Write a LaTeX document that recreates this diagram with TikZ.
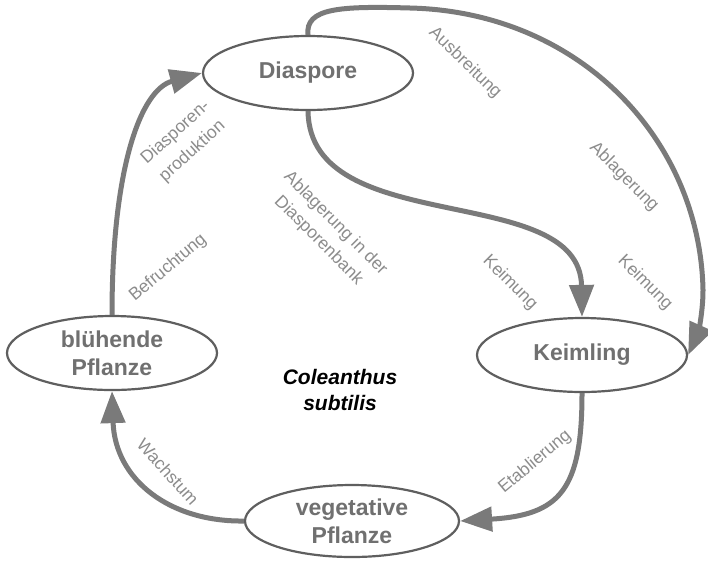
\documentclass[tikz,border=0pt]{standalone}
\usepackage{fontspec}
\setmainfont{Liberation Sans}
\usetikzlibrary{shapes.geometric,arrows.meta}
\definecolor{arrowgray}{RGB}{122,122,122}
\definecolor{edgegray}{RGB}{95,95,95}
\definecolor{nodegray}{RGB}{112,112,112}
\definecolor{labelgray}{RGB}{140,140,140}
\begin{document}
\begin{tikzpicture}[x=1pt,y=-1pt,
  state/.style={ellipse, draw=edgegray, line width=2.2pt, fill=white,
    minimum width=210pt, minimum height=74pt, inner sep=0pt,
    font=\fontsize{23}{28}\selectfont\bfseries, text=nodegray, align=center},
  flow/.style={draw=arrowgray, line width=5pt, -{Triangle[length=32pt,width=24pt]}},
  lbl/.style={font=\fontsize{17.5}{24}\selectfont, text=labelgray, align=center, inner sep=0pt},
  species/.style={font=\fontsize{21}{26}\selectfont\bfseries\itshape, text=black, align=center, inner sep=0pt}]
\useasboundingbox (0,0) rectangle (708,563);

\node[state] (dia) at (308,73) {Diaspore};
\node[state] (blu) at (112,353) {blühende\\Pflanze};
\node[state] (keim) at (582,355) {Keimling};
\node[state, minimum width=214pt, minimum height=72pt] (veg) at (352,521) {vegetative\\Pflanze};

\draw[flow] (blu.north) .. controls (112,170) and (140,90) .. (dia.west);
\draw[flow] (dia.south) .. controls (310,240) and (580,180) .. (keim.north);
\draw[flow] (dia.north) .. controls (305,8) and (340,6) .. (410,8)
  .. controls (580,12) and (700,140) .. (703,290)
  .. controls (703,315) and (697,335) .. (keim.east);
\draw[flow] (keim.south) .. controls (582,490) and (560,515) .. (veg.east);
\draw[flow] (veg.west) .. controls (170,522) and (115,480) .. (blu.south);

\node[lbl, rotate=-44] (l1) at (465,63) {Ausbreitung};
\node[lbl, rotate=-45] (l2) at (624,177) {Ablagerung};
\node[lbl, rotate=-45] (l3) at (645,283) {Keimung};
\node[lbl, rotate=-45] (l4) at (510,283) {Keimung};
\node[lbl, rotate=-45] (l5) at (327,232) {Ablagerung in der\\Diasporenbank};
\node[lbl, rotate=42, font=\fontsize{17.5}{25}\selectfont] (l6) at (184,142) {Diasporen-\\produktion};
\node[lbl, rotate=40] (l7) at (168,268) {Befruchtung};
\node[lbl, rotate=-48] (l8) at (168,472) {Wachstum};
\node[lbl, rotate=40] (l9) at (535,462) {Etablierung};
\node[species] (sp) at (340,390) {Coleanthus\\subtilis};
\end{tikzpicture}
\end{document}
